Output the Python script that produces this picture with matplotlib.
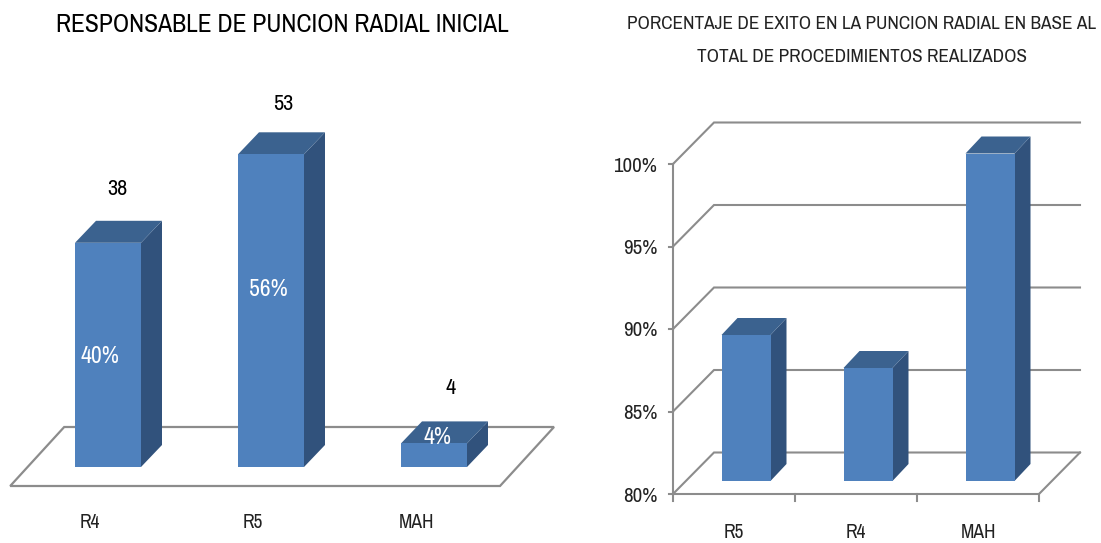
import matplotlib
matplotlib.use("Agg")
import matplotlib.pyplot as plt
from matplotlib.patches import Polygon
from matplotlib import font_manager as fm

# left chart data
left_title = "RESPONSABLE DE PUNCION RADIAL INICIAL"
left_cats = ["R4", "R5", "MAH"]
left_counts = [38, 53, 4]
left_pcts = ["40%", "56%", "4%"]

# right chart data
right_title = ["PORCENTAJE DE EXITO EN LA PUNCION RADIAL EN BASE AL",
               "TOTAL DE PROCEDIMIENTOS REALIZADOS"]
right_cats = ["R5", "R4", "MAH"]
right_vals = [89, 87, 100]
right_ticks = [80, 85, 90, 95, 100]

W, H = 1101, 543
FRONT = "#4f81bd"
TOP = "#3b628f"
SIDE = "#31527c"
GRID = "#8c8c8c"

# the original text is squeezed sideways, so prefer a narrow face if there is one
names = {f.name for f in fm.fontManager.ttflist}
NARROW = "Archivo Narrow" in names
FS = 1.0 if NARROW else 0.82
plt.rcParams["font.family"] = ["Archivo Narrow", "Liberation Sans", "DejaVu Sans"] if NARROW else ["Liberation Sans", "DejaVu Sans"]


def make_axes(fig, x_scale, x_origin, y_scale, y_origin):
    # full-figure axes, data scaled so one category / one value has the wanted pixel size
    ax = fig.add_axes([0, 0, 1, 1])
    ax.set_xlim((0 - x_origin) / x_scale, (W - x_origin) / x_scale)
    ax.set_ylim((y_origin - H) / y_scale, y_origin / y_scale)
    ax.axis("off")
    ax.patch.set_alpha(0)
    return ax


def bar3d(ax, x, base, val, half, dx, dy):
    ax.add_patch(Polygon([(x + half, base), (x + half + dx, base + dy), (x + half + dx, val + dy), (x + half, val)],
                         fc=SIDE, ec="none", zorder=3))
    ax.add_patch(Polygon([(x - half, val), (x + half, val), (x + half + dx, val + dy), (x - half + dx, val + dy)],
                         fc=TOP, ec="none", zorder=3))
    ax.add_patch(Polygon([(x - half, base), (x + half, base), (x + half, val), (x - half, val)],
                         fc=FRONT, ec="none", zorder=4))


fig = plt.figure(figsize=(W / 100, H / 100), dpi=100)

# left chart: one category = 163 px, one count = 5.9 px
sx, sy = 163.0, 5.9
ax = make_axes(fig, sx, 108, sy, 467)
fx0, fx1 = -0.6, 2.405
fy0, fy1 = -19 / sy, 40 / sy
fdx = 54 / sx
ax.add_patch(Polygon([(fx0, fy0), (fx1, fy0), (fx1 + fdx, fy1), (fx0 + fdx, fy1)],
                     fc="white", ec=GRID, lw=1.6, zorder=1))
count_shift = [(9, 54), (12, 50), (17, 55)]
pct_shift = [(-8, -2), (-3, 21), (3, 18)]
for i, v in enumerate(left_counts):
    bar3d(ax, i, 0, v, 33 / sx, 21 / sx, 22 / sy)
    ax.text(i + count_shift[i][0] / sx, v + count_shift[i][1] / sy, str(v), ha="center", va="center",
            fontsize=16 * FS, color="black", zorder=5)
    ax.text(i + pct_shift[i][0] / sx, v / 2 + pct_shift[i][1] / sy, left_pcts[i], ha="center", va="center",
            fontsize=17 * FS, color="white", zorder=6)
    ax.text(i - 18 / sx, -56 / sy, left_cats[i], ha="center", va="center", fontsize=14 * FS, color="#222222")
ax.text(174 / sx, 443 / sy, left_title, ha="center", va="center", fontsize=18.4 * FS, color="black")

# right chart: one category = 122 px, one percent = 16.5 px, baseline at 80 %
sx, sy = 122.0, 16.5
ax = make_axes(fig, sx, 734, sy, 494 + 80 * sy)
x0, x1 = -0.5, 2.5
ddx, ddy = 41 / sx, 41.5 / sy
for t in right_ticks:
    ax.plot([x0, x0 + ddx, x1 + ddx], [t, t + ddy, t + ddy], color=GRID, lw=1.5, zorder=1, solid_joinstyle="miter")
    ax.plot([x0 - 4 / sx, x0], [t, t], color=GRID, lw=1.5, zorder=1)
    ax.text(x0 - 16 / sx, t - 2 / sy, f"{t}%", ha="right", va="center", fontsize=15 * FS, color="#222222")
ax.plot([x0, x0], [right_ticks[0], right_ticks[-1]], color=GRID, lw=1.5, zorder=1)
ax.plot([x0, x1, x1 + ddx], [80, 80, 80 + ddy], color=GRID, lw=1.5, zorder=1, solid_joinstyle="miter")
for i in range(4):
    ax.plot([x0 + i, x0 + i], [80, 80 - 7 / sy], color=GRID, lw=1.5, zorder=1)
for i, v in enumerate(right_vals):
    bar3d(ax, i + 12 / sx, 80 + 13 / sy, v + 10.5 / sy, 24.5 / sx, 16 / sx, 17 / sy)
    ax.text(i, 80 - 39 / sy, right_cats[i], ha="center", va="center", fontsize=14 * FS, color="#222222")
ax.text(128 / sx, 80 + 470 / sy, right_title[0], ha="center", va="center", fontsize=13.85 * FS, color="#222222")
ax.text(128 / sx, 80 + 437 / sy, right_title[1], ha="center", va="center", fontsize=13.85 * FS, color="#222222")

fig.savefig("out.png", dpi=100, facecolor="white")
